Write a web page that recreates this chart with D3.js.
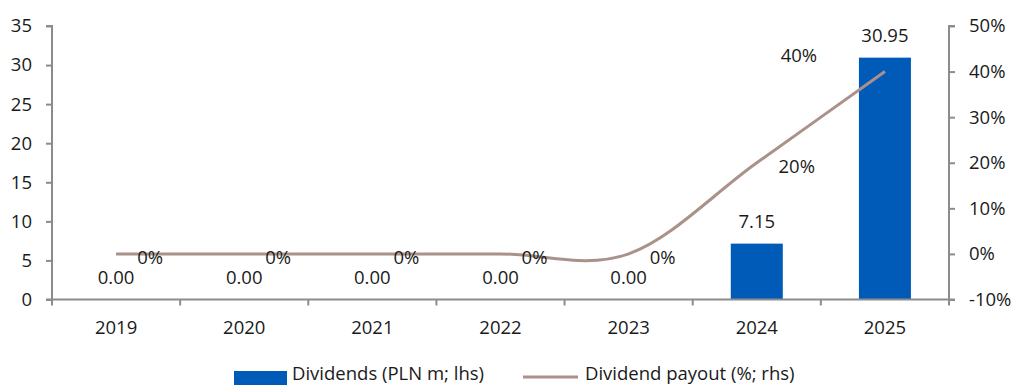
<!DOCTYPE html>
<html><head><meta charset="utf-8">
<script src="https://cdn.jsdelivr.net/npm/d3@7"></script>
<style>
body{margin:0;background:#fff;}
svg text{font-family:"Open Sans",sans-serif;fill:#1a1a1a;}
</style></head>
<body><svg id="c" width="1011" height="385"></svg>
<script>
const years = ["2019","2020","2021","2022","2023","2024","2025"];
const dividends = [0, 0, 0, 0, 0, 7.15, 30.95];
const payout = [0, 0, 0, 0, 0, 20, 40];
const leftTicks = [0, 5, 10, 15, 20, 25, 30, 35];
const rightTicks = [-10, 0, 10, 20, 30, 40, 50];
const legendLabels = ["Dividends (PLN m; lhs)", "Dividend payout (%; rhs)"];

const svg = d3.select("#c");
const L = 52, R = 949, T = 26, B = 299.5;
const fs = 18.5;
const axisColor = "#8c8c8c";
const barColor = "#005AB8";
const lineColor = "#AA928B";

const xb = d3.scaleBand().domain(years).range([L, R]);
const yL = d3.scaleLinear().domain([0, 35]).range([B, T]);
const yR = d3.scaleLinear().domain([-10, 50]).range([B, T]);
const cx = i => xb(years[i]) + xb.bandwidth()/2;

// bars
svg.selectAll("rect.bar").data(dividends).join("rect")
  .attr("x", (d,i) => cx(i) - 26)
  .attr("width", 52)
  .attr("y", d => yL(d))
  .attr("height", d => B - yL(d))
  .attr("fill", barColor);

// axes
const gl = svg.append("g").attr("transform", `translate(${L},0)`)
  .call(d3.axisLeft(yL).tickValues(leftTicks).tickSize(6).tickPadding(14));
const gr = svg.append("g").attr("transform", `translate(${R},0)`)
  .call(d3.axisRight(yR).tickValues(rightTicks).tickSize(6).tickPadding(14).tickFormat(d => d + "%"));
const gx = svg.append("g").attr("transform", `translate(0,${B})`)
  .call(d3.axisBottom(xb).tickSize(0).tickPadding(21));
[gl, gr, gx].forEach(g => {
  g.select(".domain").attr("stroke", axisColor).attr("stroke-width", 2);
  g.selectAll(".tick line").attr("stroke", axisColor).attr("stroke-width", 2);
  g.selectAll(".tick text").attr("font-size", fs).attr("font-family", '"Open Sans",sans-serif').attr("fill", "#1a1a1a");
});
gl.select(".domain").attr("d", `M-6,${T}H0V${B}H-6`);
gr.select(".domain").attr("d", `M6,${T}H0V${B}H6`);
gx.select(".domain").attr("d", `M${L},0H${R}`);
const seps = years.map((y) => xb(y)).concat([R]);
gx.selectAll("line.sep").data(seps).join("line")
  .attr("x1", d => d).attr("x2", d => d).attr("y1", 0).attr("y2", 6)
  .attr("stroke", axisColor).attr("stroke-width", 2);

// line
const line = d3.line().x((d,i) => cx(i)).y(d => yR(d)).curve(d3.curveCardinal.tension(0));
svg.append("path").datum(payout).attr("d", line)
  .attr("fill", "none").attr("stroke", lineColor).attr("stroke-width", 3);

// bar labels
svg.selectAll("text.bl").data(dividends).join("text")
  .attr("x", (d,i) => cx(i)).attr("y", d => yL(d) - 16)
  .attr("text-anchor", "middle").attr("font-size", fs)
  .text(d => d.toFixed(2));

// line labels
svg.selectAll("text.ll").data(payout).join("text")
  .attr("x", (d,i) => i === 6 ? cx(i) - 86 : cx(i) + (i === 5 ? 40 : 34))
  .attr("y", (d,i) => yR(d) + (i === 6 ? -17 : 3) + 7)
  .attr("text-anchor", "middle").attr("font-size", fs)
  .text(d => d + "%");

// legend
const lg = svg.append("g");
lg.append("rect").attr("x", 234).attr("y", 371).attr("width", 53).attr("height", 14).attr("fill", barColor);
lg.append("text").attr("x", 292).attr("y", 380).attr("font-size", fs).text(legendLabels[0]);
lg.append("line").attr("x1", 523).attr("x2", 578).attr("y1", 377).attr("y2", 377)
  .attr("stroke", lineColor).attr("stroke-width", 3);
lg.append("text").attr("x", 585).attr("y", 380).attr("font-size", fs).text(legendLabels[1]);
</script></body></html>
